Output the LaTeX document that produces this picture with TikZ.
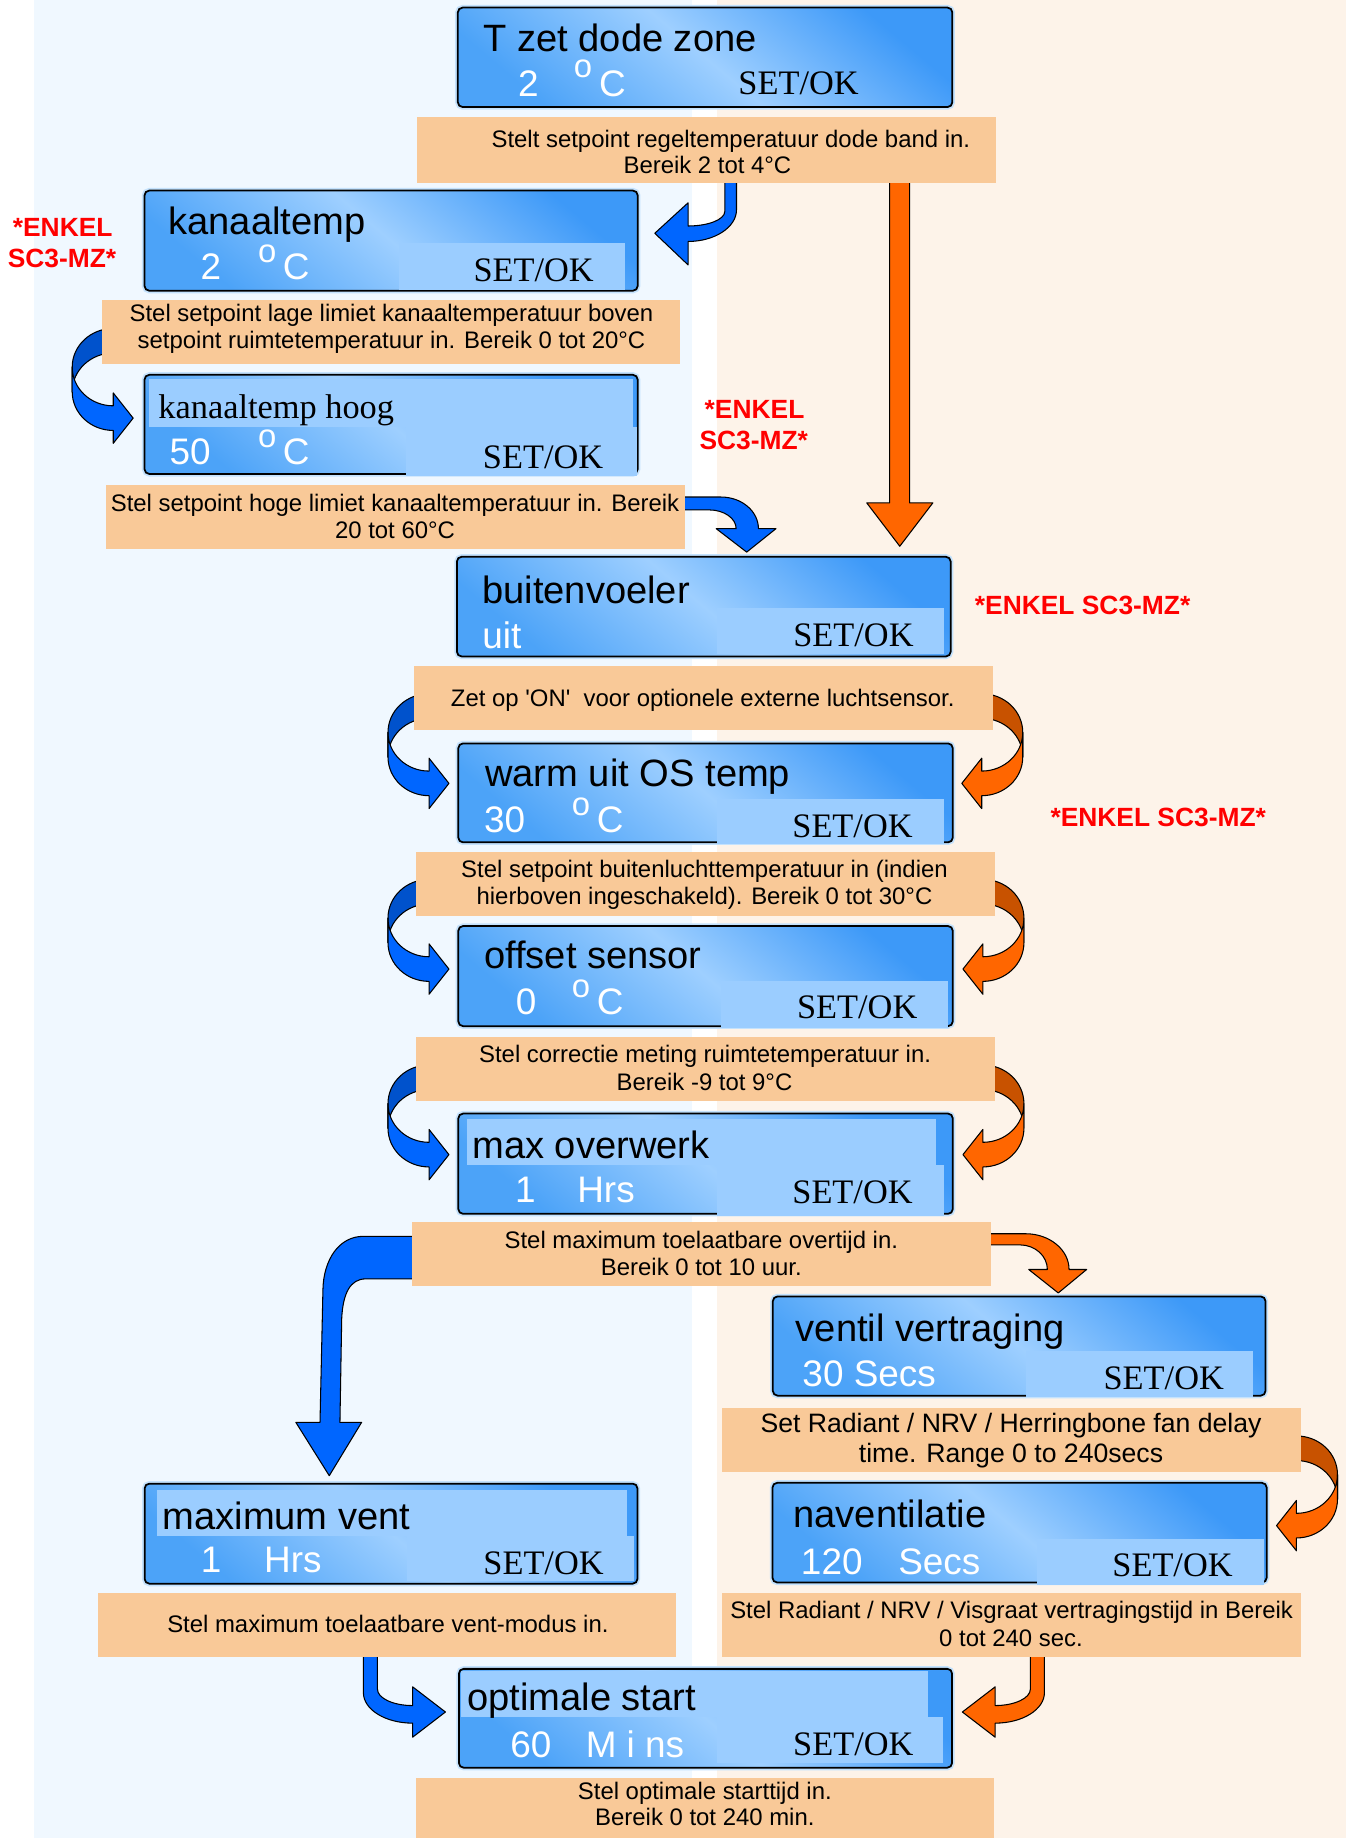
\documentclass[tikz,border=0pt]{standalone}
\usepackage{fontspec}
\setmainfont{Liberation Sans}
\newfontfamily\serifTNR{Liberation Serif}
\definecolor{bgblue}{RGB}{240,248,255}
\definecolor{bgpeach}{RGB}{253,243,233}
\definecolor{capfill}{RGB}{249,201,152}
\definecolor{lcdtop}{RGB}{61,153,248}
\definecolor{lcdmid}{RGB}{158,207,255}
\definecolor{lcdbot}{RGB}{76,163,248}
\definecolor{panelc}{RGB}{155,205,255}
\definecolor{glowc}{RGB}{196,226,253}
\definecolor{arblue}{RGB}{0,102,255}
\definecolor{arblueD}{RGB}{0,82,204}
\definecolor{arorange}{RGB}{255,102,0}
\definecolor{arorangeD}{RGB}{200,82,0}
\definecolor{redlab}{RGB}{255,0,0}
\newcommand\fs[1]{\fontsize{#1}{#1}\selectfont}
\tikzset{
  lcd/.style={draw=black, line width=1.5pt, rounded corners=4pt,
    top color=lcdtop, bottom color=lcdbot, middle color=lcdmid, shading angle=-40,
    inner sep=0pt, outer sep=0pt, anchor=north west,
    preaction={draw=glowc, line width=4.5pt}},
  capbox/.style={fill=capfill, inner sep=0pt, outer sep=0pt, anchor=north west},
  arrline/.style={draw=black, line width=0.9pt, line join=round},
  ttltxt/.style={anchor=base west, inner sep=0pt, font={\fs{32.5}}},
  valtxt/.style={anchor=base west, inner sep=0pt, text=white, font={\fs{31.5}}},
  degtxt/.style={anchor=base west, inner sep=0pt, text=white, font={\fs{28}}},
  settxt/.style={anchor=base west, inner sep=0pt, font={\serifTNR\fs{29.3}}},
  captxt/.style={anchor=base, inner sep=0pt, font={\fs{20.4}}},
  captxtb/.style={anchor=base, inner sep=0pt, font={\fs{22.7}}},
  redtxt/.style={inner sep=0pt, text=redlab, font={\bfseries\fs{22.5}}},
}
\newcommand\lcdbox[5]{\pgfmathsetmacro\bxw{#4-#2}\pgfmathsetmacro\bxh{#5-#3}%
  \node[lcd, minimum width=\bxw pt, minimum height=\bxh pt] (#1) at (#2,#3) {};}
\newcommand\capbox[5]{\pgfmathsetmacro\bxw{#4-#2}\pgfmathsetmacro\bxh{#5-#3}%
  \node[capbox, minimum width=\bxw pt, minimum height=\bxh pt] (#1) at (#2,#3) {};}
\newcommand\lcdpanel[4]{\fill[panelc] (#1,#2) rectangle (#3,#4);}
% curved side arrow, local origin = centre of upper ellipse
\newcommand\sidearrow[2]{%
  \filldraw[arrline, fill=#2] (0,-33) .. controls (-19.33,-33) and (-35,-18.23) .. (-35,0)
     -- (-35,21) .. controls (-35,2.77) and (-19.33,-12) .. (0,-12) -- cycle;
  \filldraw[arrline, fill=#1] (-35,0) .. controls (-35,18.23) and (-19.33,33) .. (0,33)
     -- (0,22) -- (17,43.5) -- (0,65) -- (0,54)
     .. controls (-19.33,54) and (-35,39.23) .. (-35,21) -- cycle;}
\newcommand\arrowI[1]{%
  \filldraw[arrline, fill=#1] (310,1408) -- (310,1444)
     .. controls (310,1458.4) and (328.8,1470) .. (352,1470)
     -- (352,1482) -- (380,1460.5) -- (352,1439) -- (352,1455)
     .. controls (335.4,1455) and (322,1448.7) .. (322,1441) -- (322,1408) -- cycle;}
\begin{document}
\begin{tikzpicture}[x=1pt,y=-1pt]
\useasboundingbox (0,0) rectangle (1148,1568);
% background
\fill[white] (0,0) rectangle (1148,1568);
\fill[bgblue] (29,0) rectangle (590,1568);
\fill[bgpeach] (611.5,0) rectangle (1148,1568);

% ---------- arrows (behind captions) ----------
\filldraw[arrline, fill=arblue] (618.3,150) -- (618.3,180.5)
   .. controls (618.3,187.3) and (604.1,192.8) .. (587,192.8)
   -- (587,173) -- (558.6,199) -- (587,226) -- (587,206)
   .. controls (609.6,206) and (628.3,193.9) .. (628.3,179) -- (628.3,150) -- cycle;
\filldraw[arrline, fill=arorange] (759,150) -- (759,429) -- (739.4,429) -- (767.6,466)
   -- (795.8,429) -- (776,429) -- (776,150) -- cycle;
\begin{scope}[shift={(96.6,313.2)}]\sidearrow{arblue}{arblueD}\end{scope}
\filldraw[arrline, fill=arblue] (578,424) -- (615,424)
   .. controls (632.7,424) and (647,436.1) .. (647,451)
   -- (662,451) -- (637,471) -- (611,451) -- (628,451)
   .. controls (628,442.2) and (617.7,435) .. (605,435) -- (578,435) -- cycle;
\begin{scope}[shift={(366,624.8)}]\sidearrow{arblue}{arblueD}\end{scope}
\begin{scope}[shift={(366,783.2)}]\sidearrow{arblue}{arblueD}\end{scope}
\begin{scope}[shift={(366,941.5)}]\sidearrow{arblue}{arblueD}\end{scope}
\begin{scope}[shift={(837.5,624.8)},xscale=-1]\sidearrow{arorange}{arorangeD}\end{scope}
\begin{scope}[shift={(838.5,783.2)},xscale=-1]\sidearrow{arorange}{arorangeD}\end{scope}
\begin{scope}[shift={(838.5,941.5)},xscale=-1]\sidearrow{arorange}{arorangeD}\end{scope}
\filldraw[arrline, fill=arblue] (355,1054.7) -- (310,1054.7)
   .. controls (289,1054.7) and (276,1075) .. (275.5,1100)
   -- (273,1213.4) -- (252.4,1213.4) -- (280.9,1258.9) -- (308.5,1213.4) -- (290,1213.4)
   -- (291.5,1125) .. controls (292.5,1103) and (299,1091) .. (312,1091) -- (355,1091) -- cycle;
\filldraw[arrline, fill=arorange] (843,1052.5) -- (875,1052.5)
   .. controls (895.4,1052.5) and (912,1066.2) .. (912,1083)
   -- (927,1083) -- (902.8,1103) -- (877.6,1083) -- (893.5,1083)
   .. controls (893.5,1071.4) and (883,1062) .. (870,1062) -- (843,1062) -- cycle;
\begin{scope}[shift={(1106,1258)},xscale=-1]\sidearrow{arorange}{arorangeD}\end{scope}
\arrowI{arblue}
\begin{scope}[shift={(1201,0)},xscale=-1]\arrowI{arorange}\end{scope}

% ---------- captions ----------
\capbox{c1}{356}{100}{850}{156}
\node[captxt] (c1a) at (623.5,126) {Stelt setpoint regeltemperatuur dode band in.};
\node[captxt] (c1b) at (603.5,148) {Bereik 2 tot 4°C};
\capbox{c2}{87}{255.9}{580.3}{310.7}
\node[captxt] (c2a) at (334,274.3) {Stel setpoint lage limiet kanaaltemperatuur boven};
\node[captxt] (c2b) at (334,297) {setpoint ruimtetemperatuur in. Bereik 0 tot 20°C};
\capbox{c3}{90.8}{413.6}{584.2}{468.5}
\node[captxt] (c3a) at (337,436.4) {Stel setpoint hoge limiet kanaaltemperatuur in. Bereik};
\node[captxt] (c3b) at (337,459.1) {20 tot 60°C};
\capbox{c4}{353}{568.5}{847}{623}
\node[captxt] (c4a) at (599.5,602.8) {Zet op \textquotesingle ON\textquotesingle\ \ voor optionele externe luchtsensor.};
\capbox{c5}{355}{727}{848.6}{781.6}
\node[captxt] (c5a) at (601,749) {Stel setpoint buitenluchttemperatuur in (indien};
\node[captxt] (c5b) at (601,771.9) {hierboven ingeschakeld). Bereik 0 tot 30°C};
\capbox{c6}{355}{884.5}{848.6}{939}
\node[captxt] (c6a) at (601.5,906.7) {Stel correctie meting ruimtetemperatuur in.};
\node[captxt] (c6b) at (601,930) {Bereik -9 tot 9°C};
\capbox{c7}{351.2}{1042.2}{845.4}{1097.4}
\node[captxt] (c7a) at (598.3,1064.7) {Stel maximum toelaatbare overtijd in.};
\node[captxt] (c7b) at (598.3,1088.3) {Bereik 0 tot 10 uur.};
\capbox{c8}{615.8}{1201}{1109.6}{1256}
\node[captxtb] (c8a) at (862.5,1222.3) {Set Radiant / NRV / Herringbone fan delay};
\node[captxtb] (c8b) at (862.5,1248) {time. Range 0 to 240secs};
\capbox{c9}{615.6}{1358.8}{1109.6}{1413.6}
\node[captxt] (c9a) at (863,1381) {Stel Radiant / NRV / Visgraat vertragingstijd in Bereik};
\node[captxt] (c9b) at (862.5,1404.4) {0 tot 240 sec.};
\capbox{c10}{83.6}{1359}{577}{1413.3}
\node[captxt] (c10a) at (330.9,1393) {Stel maximum toelaatbare vent-modus in.};
\capbox{c11}{354.5}{1516.7}{848}{1570}
\node[captxt] (c11a) at (601.3,1535.2) {Stel optimale starttijd in.};
\node[captxt] (c11b) at (601.3,1557.4) {Bereik 0 tot 240 min.};

% ---------- LCD boxes ----------
\lcdbox{b1}{390.6}{6.5}{812.4}{91.3}
\node[ttltxt] (b1t) at (412.2,44) {T zet dode zone};
\node[valtxt] (b1v) at (441.7,82.5) {2};
\node[degtxt] (b1d) at (489.4,66.5) {o};
\node[valtxt] (b1c) at (511,82.5) {C};
\node[settxt] (b1s) at (629.8,81) {SET/OK};

\lcdbox{b2}{123.3}{162.6}{544}{248}
\lcdpanel{340}{207}{533}{247}
\node[ttltxt] (b2t) at (143.5,200.4) {kanaaltemp};
\node[valtxt] (b2v) at (171,238.8) {2};
\node[degtxt] (b2d) at (219.9,224) {o};
\node[valtxt] (b2c) at (241.2,238.8) {C};
\node[settxt] (b2s) at (403.8,240.2) {SET/OK};

\lcdbox{b3}{123.3}{319.8}{544}{404.3}
\lcdpanel{127}{323.5}{540.4}{364}
\lcdpanel{346.5}{364}{543}{406}
\node[anchor=base west, inner sep=0pt, font={\serifTNR\fs{29.3}}] (b3t) at (135,356.8) {kanaaltemp hoog};
\node[valtxt] (b3v) at (144.4,396.6) {50};
\node[degtxt] (b3d) at (219.9,382) {o};
\node[valtxt] (b3c) at (241.2,396.6) {C};
\node[settxt] (b3s) at (411.8,399.4) {SET/OK};

\lcdbox{b4}{389.8}{475}{811}{560}
\lcdpanel{611.5}{518.7}{805}{557.5}
\node[ttltxt] (b4t) at (411.2,514.6) {buitenvoeler};
\node[valtxt] (b4v) at (411.3,553) {uit};
\node[settxt] (b4s) at (676.6,551.5) {SET/OK};

\lcdbox{b5}{391}{634.2}{812.8}{718.6}
\lcdpanel{611.7}{681.5}{805.5}{720}
\node[ttltxt] (b5t) at (413.8,671) {warm uit OS temp};
\node[valtxt] (b5v) at (412.7,710.6) {30};
\node[degtxt] (b5d) at (487.6,695.3) {o};
\node[valtxt] (b5c) at (508.9,710.6) {C};
\node[settxt] (b5s) at (675.8,714.7) {SET/OK};

\lcdbox{b6}{391}{790}{812.8}{875.4}
\lcdpanel{615.3}{836.7}{809}{877}
\node[ttltxt] (b6t) at (412.8,826) {offset sensor};
\node[valtxt] (b6v) at (439.9,865.7) {0};
\node[degtxt] (b6d) at (487.6,850.7) {o};
\node[valtxt] (b6c) at (508.9,865.7) {C};
\node[settxt] (b6s) at (679.8,869) {SET/OK};

\lcdbox{b7}{391}{950}{812.8}{1035.5}
\lcdpanel{398}{955}{798.4}{994}
\lcdpanel{611.5}{994}{805.5}{1037}
\node[ttltxt] (b7t) at (402.8,988) {max overwerk};
\node[valtxt] (b7v) at (439.3,1026) {1};
\node[valtxt] (b7u) at (492.3,1026) {Hrs};
\node[settxt] (b7s) at (675.8,1027) {SET/OK};

\lcdbox{b8}{659.3}{1106}{1079.6}{1190.6}
\lcdpanel{875.4}{1152.2}{1069}{1192}
\node[ttltxt] (b8t) at (678.7,1144.3) {ventil vertraging};
\node[valtxt] (b8v) at (684.4,1182.7) {30 Secs};
\node[settxt] (b8s) at (941.3,1185.5) {SET/OK};

\lcdbox{b9}{659}{1265}{1080.6}{1350}
\lcdpanel{884.5}{1312.6}{1078}{1352}
\node[ttltxt] (b9t) at (676.8,1303.4) {naventilatie};
\node[valtxt] (b9v) at (683.1,1343.3) {120};
\node[valtxt] (b9u) at (766.1,1343.3) {Secs};
\node[settxt] (b9s) at (948.8,1345) {SET/OK};

\lcdbox{b10}{123.4}{1265.7}{543.8}{1351}
\lcdpanel{133.6}{1271.4}{534.6}{1310.6}
\lcdpanel{346.9}{1310.6}{541}{1349}
\node[ttltxt] (b10t) at (138.5,1305) {maximum vent};
\node[valtxt] (b10v) at (171.1,1341.9) {1};
\node[valtxt] (b10u) at (225.2,1341.9) {Hrs};
\node[settxt] (b10s) at (412.2,1343.3) {SET/OK};

\lcdbox{b11}{391.5}{1423.7}{812.2}{1508}
\lcdpanel{393}{1425.7}{791.5}{1464.7}
\lcdpanel{611.3}{1464.7}{804.5}{1503.7}
\node[ttltxt] (b11t) at (398.4,1459) {optimale start};
\node[valtxt] (b11v) at (435.1,1499.6) {60};
\node[valtxt] (b11u) at (499.5,1499.6) {M i ns};
\node[settxt] (b11s) at (676.5,1497.7) {SET/OK};

% ---------- red labels ----------
\node[redtxt, anchor=base] (r1a) at (53.5,201.8) {*ENKEL};
\node[redtxt, anchor=base] (r1b) at (52.9,228) {SC3-MZ*};
\node[redtxt, anchor=base] (r2a) at (643.7,356.8) {*ENKEL};
\node[redtxt, anchor=base] (r2b) at (643,383.2) {SC3-MZ*};
\node[redtxt, anchor=base west] (r3) at (831.5,524.5) {*ENKEL SC3-MZ*};
\node[redtxt, anchor=base west] (r4) at (896,705) {*ENKEL SC3-MZ*};
\end{tikzpicture}
\end{document}
